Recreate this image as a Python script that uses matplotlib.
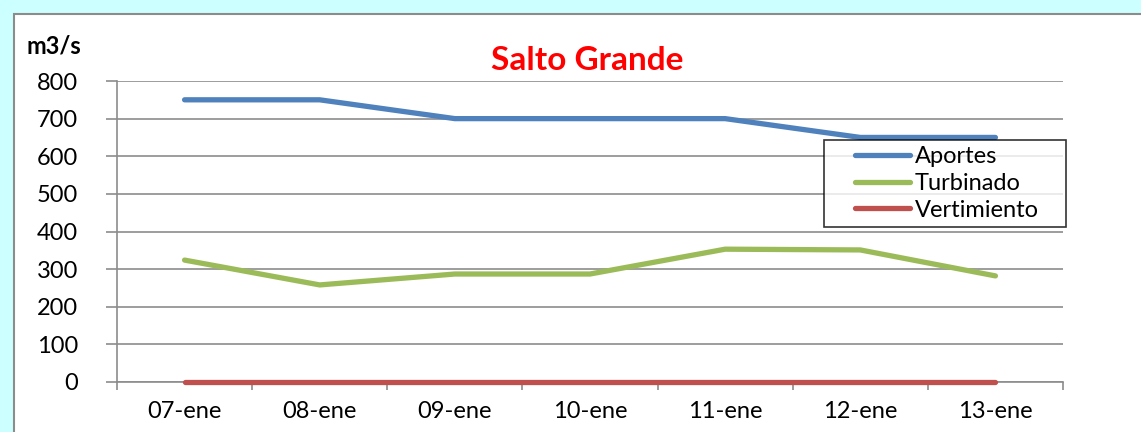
import matplotlib
matplotlib.use("Agg")
import numpy as np
import matplotlib.pyplot as plt
from matplotlib.patches import Rectangle
from matplotlib.legend_handler import HandlerLine2D

categories = ["07-ene", "08-ene", "09-ene", "10-ene", "11-ene", "12-ene", "13-ene"]
aportes = [750, 750, 700, 700, 700, 650, 650]
turbinado = [324, 258, 287, 287, 353, 351, 282]
vertimiento = [0, 0, 0, 0, 0, 0, 0]
yticks = [0, 100, 200, 300, 400, 500, 600, 700, 800]

plt.rcParams['font.family'] = ['Lato', 'DejaVu Sans']


class ShiftedHandler(HandlerLine2D):
    def get_xdata(self, legend, xdescent, ydescent, width, height, fontsize):
        xd = np.array([-xdescent + 0.30 * width, width - 0.03 * width])
        return xd, xd


W, H = 1141, 432
fig = plt.figure(figsize=(W/100, H/100), dpi=100)
fig.patch.set_facecolor('#CCFFFF')

# white panel
fig.patches.append(Rectangle((14/W, -0.1), 1.2, (H-14)/H + 0.1, transform=fig.transFigure,
                             facecolor='white', edgecolor='#8C8C8C', linewidth=1.5, zorder=-10))

ax = fig.add_axes([117/W, 1-382/H, (1063-117)/W, (382-81)/H])
ax.set_zorder(2)
ax.set_facecolor('none')
x = list(range(len(categories)))
l1, = ax.plot(x, aportes, color='#4F81BD', lw=3.8, solid_capstyle='round', label='Aportes', zorder=3, clip_on=False)
l2, = ax.plot(x, turbinado, color='#9BBB59', lw=3.8, solid_capstyle='round', label='Turbinado', zorder=3, clip_on=False)
l3, = ax.plot(x, vertimiento, color='#C0504D', lw=3.8, solid_capstyle='round', label='Vertimiento', zorder=3, clip_on=False)

ax.set_xlim(-0.5, 6.5)
ax.set_ylim(0, 800)
ax.set_yticks(yticks)
ax.set_yticklabels([str(v) for v in yticks], fontsize=17)
ax.yaxis.grid(True, color='#8C8C8C', lw=1.2)
ax.set_axisbelow(True)
ax.set_xticks([i - 0.5 for i in range(len(categories) + 1)])
ax.set_xticklabels([])
ax.set_xticks(x, minor=True)
ax.set_xticklabels(categories, minor=True, fontsize=17)
ax.tick_params(axis='x', which='major', length=6, color='#8C8C8C', direction='out', width=1.2)
ax.tick_params(axis='x', which='minor', length=0, pad=14)
ax.tick_params(axis='y', length=8, color='#8C8C8C', width=1.2, pad=20)
for s in ['top', 'right']:
    ax.spines[s].set_visible(False)
ax.spines['left'].set_color('#8C8C8C')
ax.spines['bottom'].set_color('#8C8C8C')
ax.spines['left'].set_linewidth(1.2)
ax.spines['bottom'].set_linewidth(1.2)

x0 = (824-117)/(1063-117)
x1 = (1066-117)/(1063-117)
y0 = (382-229)/(382-81)
y1 = (382-140)/(382-81)
leg = ax.legend(handles=[l1, l2, l3], loc='upper left', bbox_to_anchor=(x0, y0, x1 - x0, y1 - y0),
                mode='expand', fontsize=17, frameon=True, fancybox=False, borderpad=0.25,
                labelspacing=0.25, handlelength=3.5, handletextpad=0.1, borderaxespad=0,
                handler_map={l1: ShiftedHandler(), l2: ShiftedHandler(), l3: ShiftedHandler()})
leg.get_frame().set_edgecolor('black')
leg.get_frame().set_linewidth(1.2)
leg.set_zorder(5)

fig.text(587/W, 1-60/H, 'Salto Grande', color='#FF0000', fontsize=24, fontweight='bold',
         ha='center', va='center')
fig.text(27/W, 1-46/H, 'm3/s', color='black', fontsize=17, fontweight='bold', ha='left', va='center')

fig.savefig('out.png', dpi=100, facecolor=fig.get_facecolor())
